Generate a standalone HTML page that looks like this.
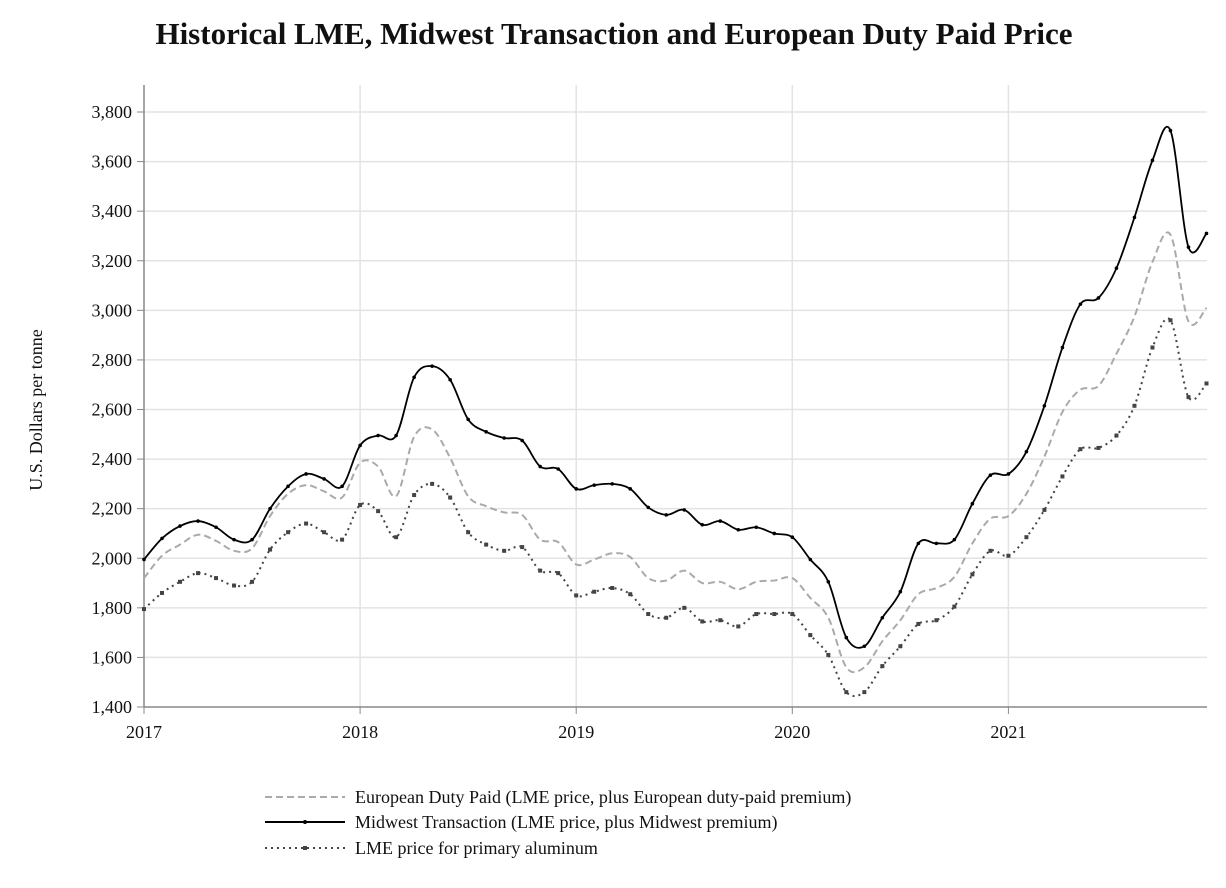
<!DOCTYPE html>
<html><head><meta charset="utf-8"><style>
html,body{margin:0;padding:0;background:#fff;width:1226px;height:888px;overflow:hidden}
svg text{font-family:"Liberation Serif",serif;fill:#111}
</style></head><body>
<svg id="s" width="1226" height="888" xmlns="http://www.w3.org/2000/svg">
<text x="614" y="44" text-anchor="middle" font-size="31" font-weight="bold">Historical LME, Midwest Transaction and European Duty Paid Price</text>
<g id="grid"></g>
<text transform="translate(42,410) rotate(-90)" text-anchor="middle" font-size="18">U.S. Dollars per tonne</text>
<g id="series"></g>
<line x1="265" y1="797" x2="345" y2="797" stroke="#aaa" stroke-width="2" stroke-dasharray="7,4"/>
<text x="355" y="803" font-size="18">European Duty Paid (LME price, plus European duty-paid premium)</text>
<line x1="265" y1="822" x2="345" y2="822" stroke="#000" stroke-width="2"/>
<circle cx="305" cy="822" r="2" fill="#000"/>
<text x="355" y="828" font-size="18">Midwest Transaction (LME price, plus Midwest premium)</text>
<line x1="265" y1="848" x2="345" y2="848" stroke="#444" stroke-width="2" stroke-dasharray="2,4"/>
<rect x="303" y="846" width="4" height="4" fill="#444"/>
<text x="355" y="854" font-size="18">LME price for primary aluminum</text>
</svg>
<script>
var X0=144,DX=216.1/12,Y0=707,PY=(707-112)/2400;
function px(i){return X0+i*DX}function py(v){return Y0-(v-1400)*PY}
var g=document.getElementById('grid'),h='';
for(var v=1400;v<=3800;v+=200){var y=py(v);if(v>1400)h+='<line x1="144" x2="1207" y1="'+y+'" y2="'+y+'" stroke="#e3e3e3" stroke-width="1.5"/>';
h+='<line x1="137" x2="144" y1="'+y+'" y2="'+y+'" stroke="#888"/><text x="132" y="'+(y+6)+'" text-anchor="end" font-size="18">'+v.toLocaleString('en-US')+'</text>';}
for(var k=0;k<5;k++){var x=px(k*12);if(k>0)h+='<line x1="'+x+'" x2="'+x+'" y1="85" y2="707" stroke="#e3e3e3" stroke-width="1.5"/>';
h+='<line x1="'+x+'" x2="'+x+'" y1="707" y2="714" stroke="#888"/><text x="'+x+'" y="738" text-anchor="middle" font-size="18">'+(2017+k)+'</text>';}
h+='<line x1="144" x2="144" y1="85" y2="707" stroke="#888" stroke-width="1.5"/><line x1="144" x2="1207" y1="707" y2="707" stroke="#888" stroke-width="1.5"/>';
g.innerHTML=h;
var mw=[1995,2080,2130,2150,2125,2075,2075,2200,2290,2340,2320,2290,2455,2495,2495,2730,2775,2720,2560,2510,2485,2475,2370,2360,2280,2295,2300,2280,2205,2175,2195,2135,2150,2115,2125,2100,2085,1995,1905,1680,1645,1760,1865,2060,2060,2075,2220,2335,2340,2430,2615,2850,3025,3050,3170,3375,3605,3725,3255,3310];
var lme=[1795,1860,1905,1940,1920,1890,1905,2035,2105,2140,2105,2075,2215,2190,2085,2255,2300,2245,2105,2055,2030,2045,1950,1940,1850,1865,1880,1855,1775,1760,1800,1745,1750,1725,1775,1775,1775,1690,1610,1460,1460,1565,1645,1735,1750,1805,1935,2030,2010,2085,2195,2330,2440,2445,2495,2615,2850,2960,2650,2705];
var eu=[1920,2010,2055,2095,2070,2030,2040,2170,2260,2295,2270,2245,2385,2370,2250,2490,2520,2405,2250,2210,2185,2175,2075,2065,1975,1995,2020,2005,1920,1910,1950,1900,1905,1875,1905,1910,1920,1840,1760,1560,1560,1665,1750,1855,1880,1925,2060,2160,2170,2260,2410,2590,2680,2695,2825,2975,3195,3305,2955,3010];
function path(d){var p=d.map(function(v,i){return[px(i),py(v)]});var s='M'+p[0][0]+','+p[0][1];
for(var i=0;i<p.length-1;i++){var a=p[Math.max(i-1,0)],b=p[i],c=p[i+1],e=p[Math.min(i+2,p.length-1)];
s+='C'+(b[0]+(c[0]-a[0])/6)+','+(b[1]+(c[1]-a[1])/6)+' '+(c[0]-(e[0]-b[0])/6)+','+(c[1]-(e[1]-b[1])/6)+' '+c[0]+','+c[1];}return s;}
var o='';
o+='<path d="'+path(eu)+'" fill="none" stroke="#aaa" stroke-width="2" stroke-dasharray="7,4"/>';
o+='<path d="'+path(lme)+'" fill="none" stroke="#444" stroke-width="2" stroke-dasharray="2,4"/>';
lme.forEach(function(v,i){o+='<rect x="'+(px(i)-2)+'" y="'+(py(v)-2)+'" width="4" height="4" fill="#444"/>'});
o+='<path d="'+path(mw)+'" fill="none" stroke="#000" stroke-width="1.8"/>';
mw.forEach(function(v,i){o+='<circle cx="'+px(i)+'" cy="'+py(v)+'" r="1.8" fill="#000"/>'});
document.getElementById('series').innerHTML=o;
</script>
</body></html>
